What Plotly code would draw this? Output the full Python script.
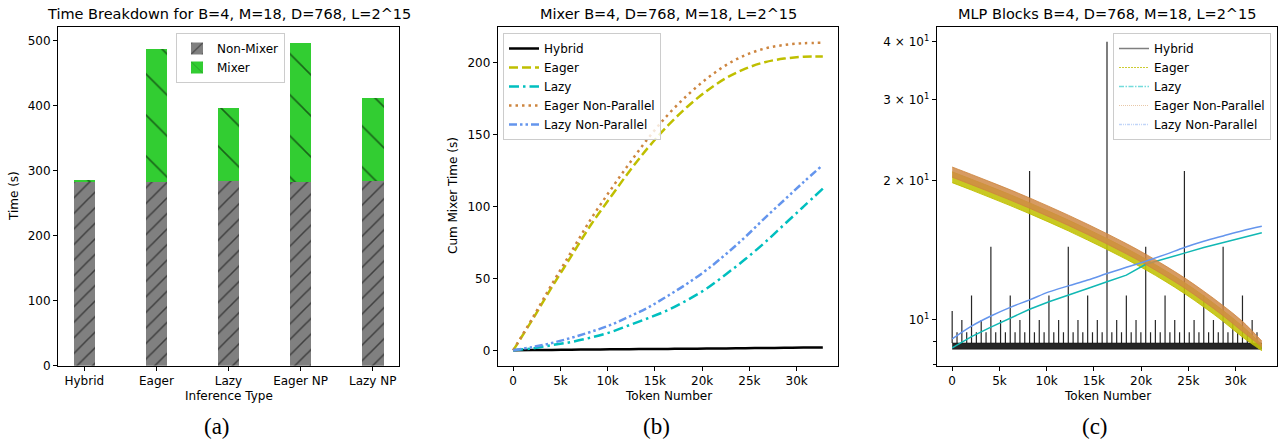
import plotly.graph_objects as go

W, H = 1283, 440

# ---------------- Panel (a) data ----------------
categories = ["Hybrid", "Eager", "Lazy", "Eager NP", "Lazy NP"]
non_mixer_time = [283.5, 283.0, 283.5, 283.0, 283.5]
mixer_time = [1.5, 203.5, 112.5, 213.5, 129.0]

# ---------------- Panel (b) data ----------------
token_grid = [0, 2048, 4096, 6144, 8192, 10240, 12288, 14336, 16384,
              18432, 20480, 22528, 24576, 26624, 28672, 30720, 32768]
cum_hybrid = [0, 0.15, 0.3, 0.45, 0.55, 0.7, 0.8, 0.9, 1.0,
              1.1, 1.25, 1.35, 1.5, 1.6, 1.75, 1.9, 2.0]
cum_eager = [0, 21.5, 44, 65.5, 87, 106, 124.5, 141.5, 156.5,
             169.5, 180.5, 189.5, 196, 200.5, 203, 204.3, 204.5]
cum_lazy = [0, 1.4, 3.6, 5.8, 8.8, 12.5, 17.5, 22.5, 28,
            35, 43, 53, 63.5, 75, 87.5, 100, 112.5]
cum_eager_np = [0, 22.5, 46, 68.5, 91, 111, 130, 148, 164,
                177.5, 189, 198.5, 205.5, 210, 212.5, 213.7, 214]
cum_lazy_np = [0, 2.3, 5.1, 8.7, 12.8, 17.5, 23.5, 30, 38,
               46.5, 56, 67, 79, 92, 104.5, 117, 129]
b_tickvals = [0, 5000, 10000, 15000, 20000, 25000, 30000]
b_ticktext = ["0", "5k", "10k", "15k", "20k", "25k", "30k"]

# ---------------- Panel (c) data ----------------
mlp_eager_lo = [19.82, 19.10, 18.38, 17.68, 16.98, 16.28, 15.59, 14.89, 14.21,
                13.53, 12.84, 12.13, 11.41, 10.67, 9.93, 9.18, 8.58]
mlp_eager_hi = [20.92, 20.16, 19.41, 18.67, 17.92, 17.18, 16.45, 15.72, 15.00,
                14.28, 13.55, 12.80, 12.05, 11.27, 10.48, 9.69, 8.85]
mlp_eager_np_lo = [20.37, 19.62, 18.89, 18.17, 17.45, 16.73, 16.02, 15.31, 14.60,
                   13.90, 13.19, 12.46, 11.73, 10.97, 10.21, 9.44, 8.75]
mlp_eager_np_hi = [21.43, 20.65, 19.88, 19.13, 18.37, 17.61, 16.86, 16.11, 15.37,
                   14.63, 13.88, 13.11, 12.34, 11.54, 10.74, 9.93, 9.0]
mlp_lazy = [8.7, 9.2, 9.65, 10.1, 10.55, 10.95, 11.3, 11.7, 12.1,
            12.5, 13.2, 13.55, 13.95, 14.35, 14.7, 15.1, 15.45]
mlp_lazy_np = [9.1, 9.7, 10.2, 10.65, 11.05, 11.5, 11.85, 12.2, 12.6,
               13.0, 13.4, 13.85, 14.35, 14.8, 15.2, 15.6, 15.95]
hybrid_base_tokens = [0, 32768]
hybrid_base_lo = [8.64, 8.64]
hybrid_base_hi = [8.92, 8.92]
hybrid_spike_tokens = [
    0, 512, 1024, 1536, 2048, 2560, 3072, 3584, 4096, 4608, 5120, 5632,
    6144, 6656, 7168, 7680, 8192, 8704, 9216, 9728, 10240, 10752, 11264,
    11776, 12288, 12800, 13312, 13824, 14336, 14848, 15360, 15872, 16384,
    16896, 17408, 17920, 18432, 18944, 19456, 19968, 20480, 20992, 21504,
    22016, 22528, 23040, 23552, 24064, 24576, 25088, 25600, 26112, 26624,
    27136, 27648, 28160, 28672, 29184, 29696, 30208, 30720, 31232, 31744,
    32256]
hybrid_spike_peaks = [
    10.45, 9.4, 10.0, 9.4, 11.3, 9.4, 10.0, 9.4, 14.4, 9.4, 10.0, 9.4,
    11.3, 9.4, 10.0, 9.4, 21.0, 9.4, 10.0, 9.4, 11.3, 9.4, 10.0,
    9.4, 14.4, 9.4, 10.0, 9.4, 11.3, 9.4, 10.0, 9.4, 40.0,
    9.4, 10.0, 9.4, 11.3, 9.4, 10.0, 9.4, 14.4, 9.4, 10.0,
    9.4, 11.3, 9.4, 10.0, 9.4, 21.0, 9.4, 10.0, 9.4, 11.3,
    9.4, 10.0, 9.4, 14.4, 9.4, 10.0, 9.4, 11.3, 9.4, 10.0,
    9.4]
c_tickvals = [10, 20, 30, 40]
c_ticktext = ["10<sup>1</sup>", "2 × 10<sup>1</sup>", "3 × 10<sup>1</sup>", "4 × 10<sup>1</sup>"]

# ---------------- styling ----------------
FONT = "DejaVu Sans"
YELLOW = "#bfbf00"
CYAN = "#00bfbf"
PERU = "#cd853f"
CBLUE = "#6495ed"

fig = go.Figure()

# Panel (a): stacked hatched bars
fig.add_trace(go.Bar(
    x=categories, y=non_mixer_time, name="Non-Mixer", width=0.3,
    marker=dict(color="#808080", line=dict(width=0),
                pattern=dict(shape="/", fgcolor="black", bgcolor="#808080",
                             size=11, solidity=0.14)),
    xaxis="x", yaxis="y", legend="legend"))
fig.add_trace(go.Bar(
    x=categories, y=mixer_time, name="Mixer", width=0.3,
    marker=dict(color="#32cd32", line=dict(width=0),
                pattern=dict(shape="\\", fgcolor="black", bgcolor="#32cd32",
                             size=29, solidity=0.055)),
    xaxis="x", yaxis="y", legend="legend"))

# Panel (b): cumulative mixer time
b_series = [
    ("Hybrid", cum_hybrid, "black", "solid"),
    ("Eager", cum_eager, YELLOW, "9px,4px"),
    ("Lazy", cum_lazy, CYAN, "10px,4px,2.5px,4px"),
    ("Eager Non-Parallel", cum_eager_np, PERU, "2.5px,4px"),
    ("Lazy Non-Parallel", cum_lazy_np, CBLUE, "8px,3px,2.5px,3px,2.5px,3px"),
]
for name, vals, col, dash in b_series:
    fig.add_trace(go.Scatter(
        x=token_grid, y=vals, name=name, mode="lines",
        line=dict(color=col, width=2.5, dash=dash, shape="spline"),
        xaxis="x2", yaxis="y2", legend="legend2"))

# Panel (c): MLP blocks
fig.add_trace(go.Scatter(x=hybrid_base_tokens, y=hybrid_base_lo, mode="lines",
                         line=dict(color="rgba(0,0,0,0.85)", width=0.5),
                         showlegend=False, xaxis="x3", yaxis="y3"))
fig.add_trace(go.Scatter(x=hybrid_base_tokens, y=hybrid_base_hi, mode="lines",
                         line=dict(color="rgba(0,0,0,0.85)", width=0.5),
                         fill="tonexty", fillcolor="rgba(0,0,0,0.85)",
                         showlegend=False, xaxis="x3", yaxis="y3"))
spike_x, spike_y = [], []
for t, h in zip(hybrid_spike_tokens, hybrid_spike_peaks):
    spike_x += [t, t, None]
    spike_y += [hybrid_base_hi[0], h, None]
fig.add_trace(go.Scatter(x=spike_x, y=spike_y, mode="lines",
                         line=dict(color="rgba(0,0,0,0.85)", width=1.2),
                         showlegend=False, xaxis="x3", yaxis="y3"))

fig.add_trace(go.Scatter(x=token_grid, y=mlp_eager_lo, mode="lines",
                         line=dict(color="rgba(191,191,0,0.9)", width=1, shape="spline"),
                         showlegend=False, xaxis="x3", yaxis="y3"))
fig.add_trace(go.Scatter(x=token_grid, y=mlp_eager_hi, mode="lines",
                         line=dict(color="rgba(191,191,0,0.9)", width=1, shape="spline"),
                         fill="tonexty", fillcolor="rgba(195,195,10,0.9)",
                         showlegend=False, xaxis="x3", yaxis="y3"))
fig.add_trace(go.Scatter(x=token_grid, y=mlp_lazy, mode="lines",
                         line=dict(color="#11b8b4", width=1.5),
                         showlegend=False, xaxis="x3", yaxis="y3"))
fig.add_trace(go.Scatter(x=token_grid, y=mlp_eager_np_lo, mode="lines",
                         line=dict(color="rgba(205,133,63,0.8)", width=1, shape="spline"),
                         showlegend=False, xaxis="x3", yaxis="y3"))
fig.add_trace(go.Scatter(x=token_grid, y=mlp_eager_np_hi, mode="lines",
                         line=dict(color="rgba(205,133,63,0.8)", width=1, shape="spline"),
                         fill="tonexty", fillcolor="rgba(208,138,70,0.85)",
                         showlegend=False, xaxis="x3", yaxis="y3"))
fig.add_trace(go.Scatter(x=token_grid, y=mlp_lazy_np, mode="lines",
                         line=dict(color=CBLUE, width=1.5, shape="spline"),
                         showlegend=False, xaxis="x3", yaxis="y3"))

# legend-only entries for panel (c)
c_legend = [
    ("Hybrid", "rgba(0,0,0,0.5)", "solid", 1.5),
    ("Eager", "rgba(191,191,0,0.8)", "2px,1px", 1),
    ("Lazy", "rgba(0,191,191,0.55)", "5px,1.5px,1.5px,1.5px", 1.5),
    ("Eager Non-Parallel", "rgba(205,133,63,0.45)", "1px,1px", 1),
    ("Lazy Non-Parallel", "rgba(100,149,237,0.4)", "3px,1px,1px,1px,1px,1px", 1.5),
]
for name, col, dash, w in c_legend:
    fig.add_trace(go.Scatter(x=[None], y=[None], name=name, mode="lines",
                             line=dict(color=col, dash=dash, width=w),
                             xaxis="x3", yaxis="y3", legend="legend3"))

# ---------------- axes ----------------
ydom = [1 - 365.7 / H, 1 - 27 / H]
axis_common = dict(showline=True, mirror=True, linecolor="black", linewidth=1,
                   ticks="outside", ticklen=4, tickwidth=1, tickcolor="black",
                   showgrid=False, zeroline=False, automargin=False,
                   tickfont=dict(family=FONT, size=12, color="black"))

fig.update_layout(
    xaxis=dict(domain=[58 / W, 399 / W], anchor="y", range=[-0.365, 4.365],
               **axis_common),
    yaxis=dict(domain=ydom, anchor="x", range=[0, 521],
               tickvals=[0, 100, 200, 300, 400, 500], **axis_common),
    xaxis2=dict(domain=[497.7 / W, 838.3 / W], anchor="y2", range=[-1638, 34406],
                tickvals=b_tickvals, ticktext=b_ticktext, **axis_common),
    yaxis2=dict(domain=ydom, anchor="x2", range=[-10.7, 225],
                tickvals=[0, 50, 100, 150, 200], **axis_common),
    xaxis3=dict(domain=[936.7 / W, 1277.3 / W], anchor="y3", range=[-1638, 34406],
                tickvals=b_tickvals, ticktext=b_ticktext, **axis_common),
    yaxis3=dict(domain=ydom, anchor="x3", type="log", range=[0.901, 1.634],
                tickvals=c_tickvals, ticktext=c_ticktext,
                minor=dict(tickvals=[8, 9], ticks="outside", ticklen=2.5,
                           tickcolor="black", showgrid=False),
                **axis_common),
    barmode="stack",
    width=W, height=H,
    margin=dict(l=0, r=0, t=0, b=0, autoexpand=False),
    paper_bgcolor="white", plot_bgcolor="white",
    font=dict(family=FONT, size=12, color="black"),
)

legend_common = dict(bgcolor="rgba(255,255,255,0.8)", bordercolor="#cccccc",
                     borderwidth=1, font=dict(family=FONT, size=12, color="black"),
                     yanchor="top", traceorder="normal",
                     itemwidth=30, tracegroupgap=0)
fig.update_layout(
    legend=dict(x=176 / W, xanchor="left", y=1 - 33 / H, **legend_common),
    legend2=dict(x=503 / W, xanchor="left", y=1 - 33 / H, **legend_common),
    legend3=dict(x=1271 / W, xanchor="right", y=1 - 33 / H, **legend_common),
)

# ---------------- text annotations ----------------
def ann(text, x, y, size=12, angle=0, family=FONT):
    fig.add_annotation(text=text, x=x / W, y=1 - y / H, xref="paper", yref="paper",
                       showarrow=False, xanchor="center", yanchor="middle",
                       textangle=angle, font=dict(family=family, size=size, color="black"))

ann("Time Breakdown for B=4, M=18, D=768, L=2^15", 228.5, 14, size=14.5)
ann("Mixer B=4, D=768, M=18, L=2^15", 668, 14, size=14.5)
ann("MLP Blocks B=4, D=768, M=18, L=2^15", 1107, 14, size=14.5)
ann("Inference Type", 228.5, 396)
ann("Token Number", 668, 396)
ann("Token Number", 1107, 396)
ann("Time (s)", 14, 196, angle=-90)
ann("Cum Mixer Time (s)", 453, 196, angle=-90)
ann("(a)", 217, 426, size=23, family="Liberation Serif")
ann("(b)", 656, 426, size=23, family="Liberation Serif")
ann("(c)", 1095, 426, size=23, family="Liberation Serif")

fig.write_html("out.html", config={"displayModeBar": False},
               post_script="document.body.style.margin='0px';")
